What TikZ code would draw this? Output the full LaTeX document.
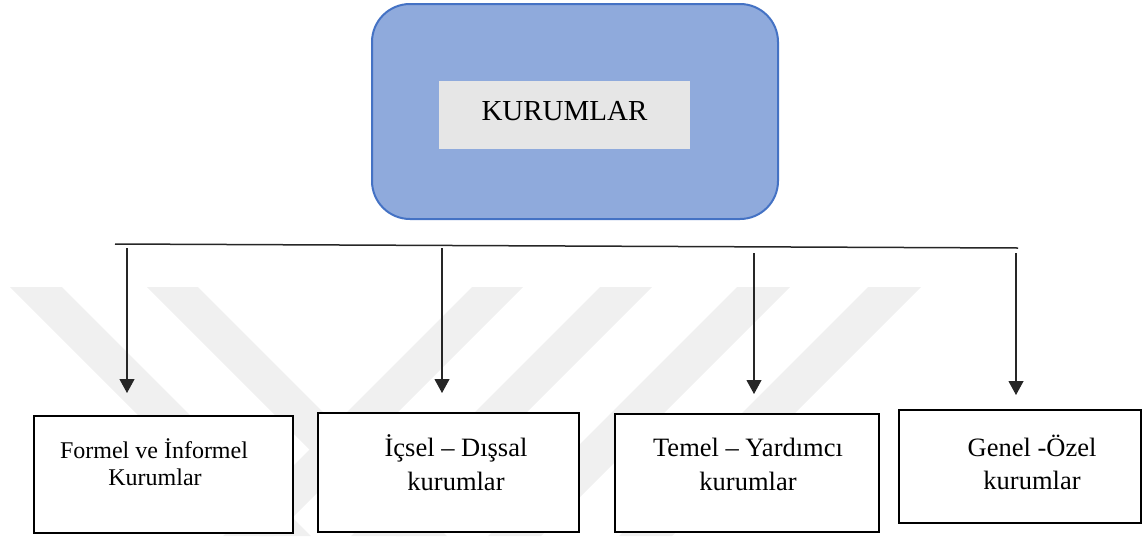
\documentclass[tikz,border=0pt]{standalone}
\usepackage{fontspec}
\setmainfont{Liberation Serif}
\usetikzlibrary{arrows.meta}
\definecolor{hubfill}{HTML}{8FAADC}
\definecolor{hubline}{HTML}{4472C4}
\definecolor{tagfill}{HTML}{E6E6E6}
\definecolor{wmark}{HTML}{F0F0F0}
\begin{document}
\begin{tikzpicture}[x=1pt,y=-1pt,
  hub/.style={draw=hubline, line width=2pt, fill=hubfill, rounded corners=38pt,
    minimum width=406pt, minimum height=215pt, inner sep=0pt},
  tag/.style={fill=tagfill, minimum width=251pt, minimum height=68pt, inner sep=0pt},
  leaf/.style={draw=black, line width=2pt, fill=white, inner sep=0pt},
  spine/.style={draw=black!85, line width=1.5pt},
  arr/.style={draw=black!85, line width=1.1pt, -{Triangle[length=14pt,width=15pt]}},
  big/.style={inner sep=0pt, anchor=base, font=\fontsize{29}{34}\selectfont},
  lbl/.style={inner sep=0pt, anchor=base, font=\fontsize{26.5}{32}\selectfont},
  lblsm/.style={inner sep=0pt, anchor=base, font=\fontsize{24}{29}\selectfont},
  wm/.style={fill=wmark, draw=none}
]
\useasboundingbox (0,0) rectangle (1142,536);

% faint background stripes
\foreach \a/\b in {10/62, 147/198}
  \path[wm] (\a,287) -- (\b,287) -- (\b+249,536) -- (\a+249,536) -- cycle;
\foreach \a/\b in {472/523, 600/652, 737/790, 868/921}
  \path[wm] (\a,287) -- (\b,287) -- (\b-249,536) -- (\a-249,536) -- cycle;

% top node
\node[hub] (hub) at (575,111.5) {};
\node[tag] (tag) at (564.5,115) {};
\node[big] (title) at (564.5,120) {KURUMLAR};

% branch line
\coordinate (spL) at (115,244);
\coordinate (spR) at (1018,248);
\draw[spine] (spL) -- (spR);

% category boxes
\node[leaf, minimum width=259pt, minimum height=117pt] (b1) at (163.5,474.5) {};
\node[leaf, minimum width=261pt, minimum height=119pt] (b2) at (448.5,472.5) {};
\node[leaf, minimum width=264pt, minimum height=118pt] (b3) at (747,473) {};
\node[leaf, minimum width=242pt, minimum height=113pt] (b4) at (1020,466.5) {};

% arrows from the branch line
\coordinate (s1) at (127,248);  \coordinate (t1) at (127,393);
\coordinate (s2) at (442,248);  \coordinate (t2) at (442,393);
\coordinate (s3) at (754,253);  \coordinate (t3) at (754,394);
\coordinate (s4) at (1016,253); \coordinate (t4) at (1016,395);
\draw[arr] (s1) -- (t1);
\draw[arr] (s2) -- (t2);
\draw[arr] (s3) -- (t3);
\draw[arr] (s4) -- (t4);

% box labels
\node[lblsm] (b1a) at (154,458) {Formel ve İnformel};
\node[lblsm] (b1b) at (155,485.5) {Kurumlar};
\node[lbl] (b2a) at (456,456) {İçsel – Dışsal};
\node[lbl] (b2b) at (456,490) {kurumlar};
\node[lbl] (b3a) at (748,456.5) {Temel – Yardımcı};
\node[lbl] (b3b) at (748,490) {kurumlar};
\node[lbl] (b4a) at (1032,456) {Genel -Özel};
\node[lbl] (b4b) at (1032,489.5) {kurumlar};
\end{tikzpicture}
\end{document}
